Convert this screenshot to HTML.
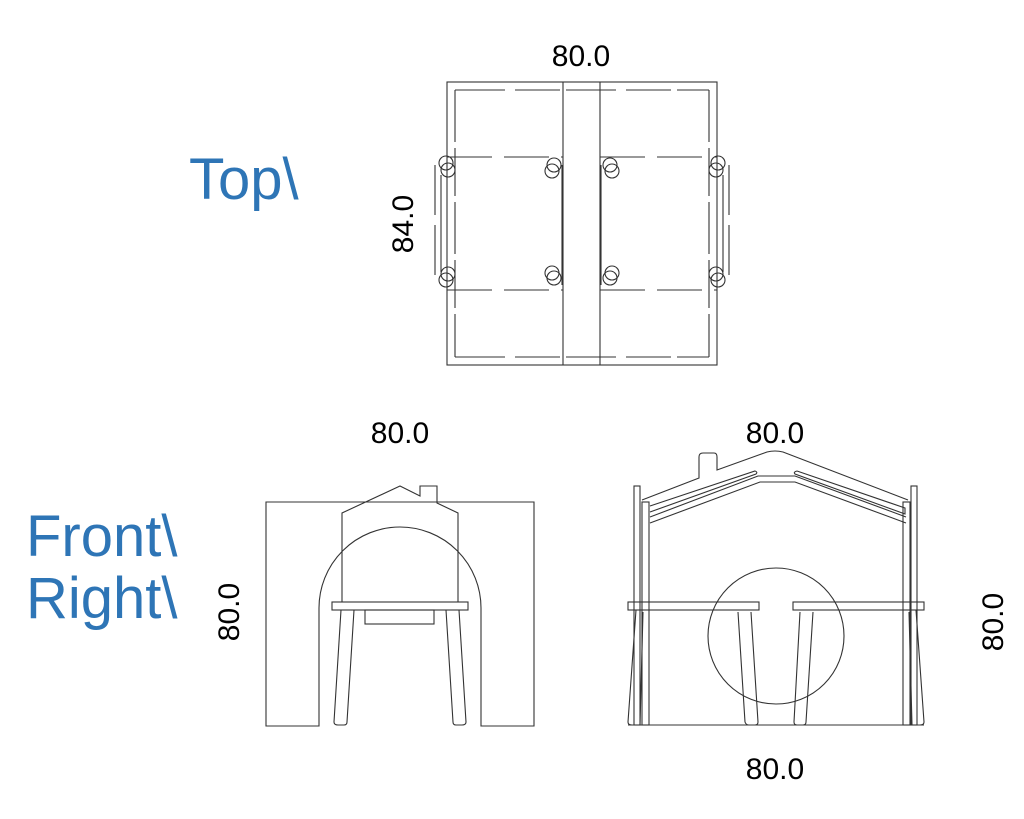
<!DOCTYPE html>
<html><head><meta charset="utf-8"><style>
body{margin:0;background:#fff;width:1024px;height:819px;overflow:hidden}
svg{display:block}
.l{fill:none;stroke:#333;stroke-width:1.1}
.d{font-family:"Liberation Sans",sans-serif;font-size:30px;fill:#000}
.b{font-family:"Liberation Sans",sans-serif;font-size:58px;fill:#2e75b6}
</style></head><body>
<svg width="1024" height="819" viewBox="0 0 1024 819">
<text class="b" x="189" y="199">Top\</text>
<text class="b" x="26" y="556">Front\</text>
<text class="b" x="26" y="618">Right\</text>
<text class="d" x="581" y="66" text-anchor="middle">80.0</text>
<text class="d" transform="translate(413,224) rotate(-90)" text-anchor="middle">84.0</text>
<text class="d" x="400" y="443" text-anchor="middle">80.0</text>
<text class="d" transform="translate(239,612) rotate(-90)" text-anchor="middle">80.0</text>
<text class="d" x="775" y="443" text-anchor="middle">80.0</text>
<text class="d" x="775" y="779" text-anchor="middle">80.0</text>
<text class="d" transform="translate(1003,622) rotate(-90)" text-anchor="middle">80.0</text>

<g class="l">
<rect x="447" y="82" width="270" height="283"/>
<line x1="455" y1="90" x2="455" y2="357" stroke-dasharray="52,6,48,6"/>
<line x1="709" y1="90" x2="709" y2="357" stroke-dasharray="52,6,48,6"/>
<line x1="455" y1="90" x2="709" y2="90" stroke-dasharray="50,10,45,6"/>
<line x1="455" y1="357" x2="709" y2="357" stroke-dasharray="50,10,45,6"/>
<line x1="563" y1="82" x2="563" y2="365"/>
<line x1="600" y1="82" x2="600" y2="365"/>
<line x1="447" y1="157" x2="563" y2="157" stroke-dasharray="45,12"/>
<line x1="447" y1="290" x2="563" y2="290" stroke-dasharray="45,12"/>
<line x1="600" y1="157" x2="717" y2="157" stroke-dasharray="45,12"/>
<line x1="600" y1="290" x2="717" y2="290" stroke-dasharray="45,12"/>
<line x1="562" y1="165" x2="562" y2="285"/>
<line x1="601" y1="165" x2="601" y2="285"/>
<line x1="435" y1="165" x2="435" y2="285" stroke-dasharray="50,10"/>
<line x1="729" y1="165" x2="729" y2="285" stroke-dasharray="50,10"/>
<line x1="441" y1="175" x2="441" y2="272"/>
<line x1="723" y1="175" x2="723" y2="272"/>
<circle cx="446" cy="163" r="7"/><circle cx="448" cy="170" r="7"/>
<circle cx="446" cy="280" r="7"/><circle cx="448" cy="274" r="7"/>
<circle cx="554" cy="165" r="7"/><circle cx="552" cy="171" r="7"/>
<circle cx="554" cy="278" r="7"/><circle cx="552" cy="273" r="7"/>
<circle cx="610" cy="165" r="7"/><circle cx="612" cy="171" r="7"/>
<circle cx="610" cy="278" r="7"/><circle cx="612" cy="273" r="7"/>
<circle cx="718" cy="163" r="7"/><circle cx="716" cy="170" r="7"/>
<circle cx="718" cy="280" r="7"/><circle cx="716" cy="274" r="7"/>
</g>

<g class="l">
<path d="M266,502 H534 V726 H481 V608 A81,81 0 0 0 319,608 V726 H266 Z"/>
<path d="M342,602 V513 L400,486 L420,496 V486 H437 V503 L458,513 V602"/>
<rect x="332" y="602" width="136" height="8"/>
<rect x="365" y="610" width="69" height="14"/>
<path d="M341,610 L334,722 Q334,725 338,725 H344 Q347,725 347,722 L354,610"/>
<path d="M446,610 L453,722 Q453,725 456,725 H462 Q466,725 466,722 L459,610"/>
</g>

<g class="l">
<rect x="634" y="486" width="6" height="239"/>
<rect x="642" y="502" width="7" height="223"/>
<rect x="911" y="486" width="6" height="239"/>
<rect x="903" y="502" width="7" height="223"/>
<path d="M642,500 L699,478 V457 Q699,453 703,453 H714 Q717,453 717,457 V470 L767,452 Q775,450 783,452 L908,500"/>
<path d="M650,506 L755,471 Q758,472 756,474 L650,512"/>
<path d="M797,471 L905,508 L905,514 L795,474 Q793,472 797,471"/>
<path d="M650,523 L760,482 H795 L906,523"/>
<path d="M650,517 L758,476 H795 L906,517"/>
<circle cx="776" cy="636" r="68"/>
<rect x="628" y="602" width="131" height="8"/>
<rect x="793" y="602" width="131" height="8"/>
<line x1="628" y1="725" x2="924" y2="725"/>
<path d="M636,610 L628,722 Q628,725 632,725 H640 L643,612"/>
<path d="M738,612 L745,722 Q746,725 749,725 H755 Q758,725 758,722 L751,612"/>
<path d="M813,612 L806,722 Q806,725 803,725 H797 Q794,725 794,722 L800,612"/>
<path d="M916,610 L924,722 Q924,725 920,725 H912 L909,612"/>
</g>
</svg>
</body></html>
